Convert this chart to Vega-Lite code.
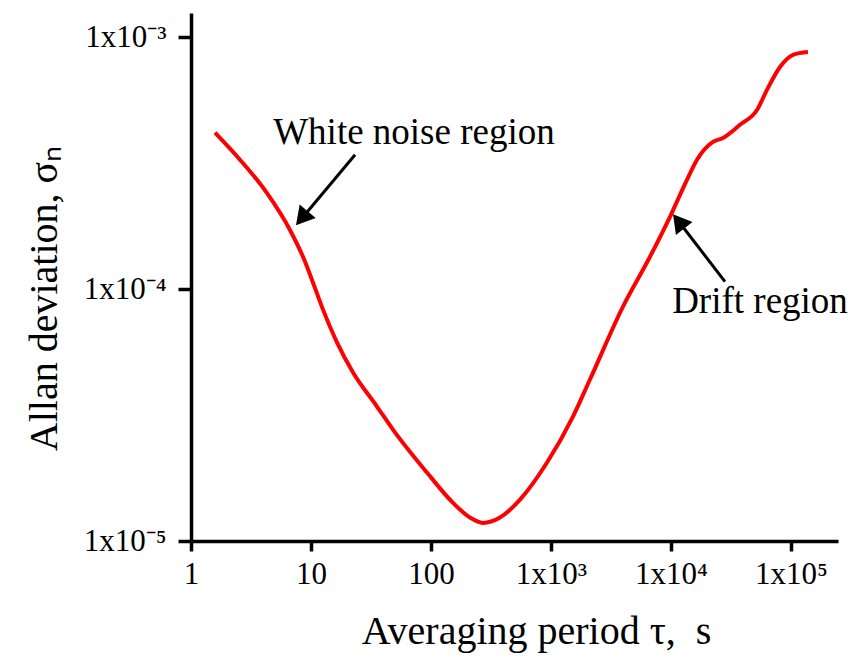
{
  "$schema": "https://vega.github.io/schema/vega-lite/v6.json",
  "width": 647,
  "height": 528,
  "autosize": "none",
  "padding": {"left": 191, "top": 13, "right": 14, "bottom": 117},
  "background": "white",
  "config": {
    "view": {"stroke": null},
    "font": "Liberation Serif",
    "axis": {
      "grid": false,
      "domainColor": "black",
      "domainWidth": 3.5,
      "tickColor": "black",
      "tickWidth": 3.5,
      "labelFont": "Liberation Serif",
      "labelColor": "black",
      "labelFontSize": 31,
      "titleFont": "Liberation Serif",
      "titleColor": "black",
      "titleFontSize": 40,
      "titleFontWeight": "normal"
    }
  },
  "datasets": {
    "curve": [
      {"tau": 1.585, "adev": 4.19e-4},
      {"tau": 2.56, "adev": 3.27e-4},
      {"tau": 4.27, "adev": 2.42e-4},
      {"tau": 6.68, "adev": 1.72e-4},
      {"tau": 8.58, "adev": 1.345e-4},
      {"tau": 10.4, "adev": 1.062e-4},
      {"tau": 12.6, "adev": 8.3e-5},
      {"tau": 16.5, "adev": 6.14e-5},
      {"tau": 22.4, "adev": 4.67e-5},
      {"tau": 35.5, "adev": 3.42e-5},
      {"tau": 48.2, "adev": 2.77e-5},
      {"tau": 92.6, "adev": 1.87e-5},
      {"tau": 152, "adev": 1.42e-5},
      {"tau": 211, "adev": 1.24e-5},
      {"tau": 271, "adev": 1.18e-5},
      {"tau": 376, "adev": 1.24e-5},
      {"tau": 552, "adev": 1.46e-5},
      {"tau": 927, "adev": 2.05e-5},
      {"tau": 1525, "adev": 3.12e-5},
      {"tau": 2113, "adev": 4.38e-5},
      {"tau": 3981, "adev": 8.53e-5},
      {"tau": 6683, "adev": 1.346e-4},
      {"tau": 9811, "adev": 1.94e-4},
      {"tau": 13590, "adev": 2.72e-4},
      {"tau": 16480, "adev": 3.27e-4},
      {"tau": 22390, "adev": 3.85e-4},
      {"tau": 27100, "adev": 3.99e-4},
      {"tau": 37580, "adev": 4.5e-4},
      {"tau": 52100, "adev": 5.15e-4},
      {"tau": 63100, "adev": 6.19e-4},
      {"tau": 81000, "adev": 7.63e-4},
      {"tau": 104000, "adev": 8.53e-4},
      {"tau": 138600, "adev": 8.75e-4}
    ],
    "arrows": [
      {"tau": 23.3, "adev": 3.42e-4, "tau2": 8.71, "adev2": 1.954e-4, "heading": 220},
      {"tau": 28180, "adev": 1.072e-4, "tau2": 12000, "adev2": 1.82e-4, "heading": 322}
    ],
    "notes": [
      {"tau": 72.1, "adev": 4.18e-4, "text": "White noise region"},
      {"tau": 55200, "adev": 8.91e-5, "text": "Drift region"}
    ]
  },
  "encoding": {
    "x": {
      "field": "tau",
      "type": "quantitative",
      "scale": {"type": "log", "domain": [1, 246600], "nice": false},
      "axis": {
        "title": "Averaging period τ,\u00a0\u00a0s",
        "values": [1, 10, 100, 1000, 10000, 100000],
        "labelExpr": "datum.value < 5 ? '1' : datum.value < 50 ? '10' : datum.value < 500 ? '100' : datum.value < 5000 ? '1x10³' : datum.value < 50000 ? '1x10⁴' : '1x10⁵'",
        "tickSize": 10,
        "labelPadding": 8,
        "titlePadding": 22,
        "titleX": 345,
        "labelFlush": false,
        "labelOverlap": false
      }
    },
    "y": {
      "field": "adev",
      "type": "quantitative",
      "scale": {"type": "log", "domain": [1e-5, 1.251e-3], "nice": false},
      "axis": {
        "title": "Allan deviation, σₙ",
        "values": [1e-5, 1e-4, 1e-3],
        "labelExpr": "datum.value < 5e-5 ? '1x10⁻⁵' : datum.value < 5e-4 ? '1x10⁻⁴' : '1x10⁻³'",
        "tickSize": 13,
        "labelPadding": 12,
        "titlePadding": 19,
        "titleY": 285,
        "labelFlush": false,
        "labelOverlap": false
      }
    }
  },
  "layer": [
    {
      "data": {"name": "curve"},
      "mark": {"type": "line", "color": "#ff0000", "strokeWidth": 4, "interpolate": "monotone"}
    },
    {
      "data": {"name": "arrows"},
      "mark": {"type": "rule", "color": "black", "strokeWidth": 3},
      "encoding": {
        "x2": {"field": "tau2"},
        "y2": {"field": "adev2"}
      }
    },
    {
      "data": {"name": "arrows"},
      "mark": {"type": "point", "shape": "triangle", "filled": true, "color": "black", "opacity": 1, "size": 440},
      "encoding": {
        "x": {"field": "tau2", "type": "quantitative"},
        "y": {"field": "adev2", "type": "quantitative"},
        "angle": {"field": "heading", "type": "quantitative", "scale": null}
      }
    },
    {
      "data": {"name": "notes"},
      "mark": {"type": "text", "font": "Liberation Serif", "fontSize": 37, "color": "black", "baseline": "middle", "align": "center"},
      "encoding": {
        "text": {"field": "text"}
      }
    }
  ]
}
